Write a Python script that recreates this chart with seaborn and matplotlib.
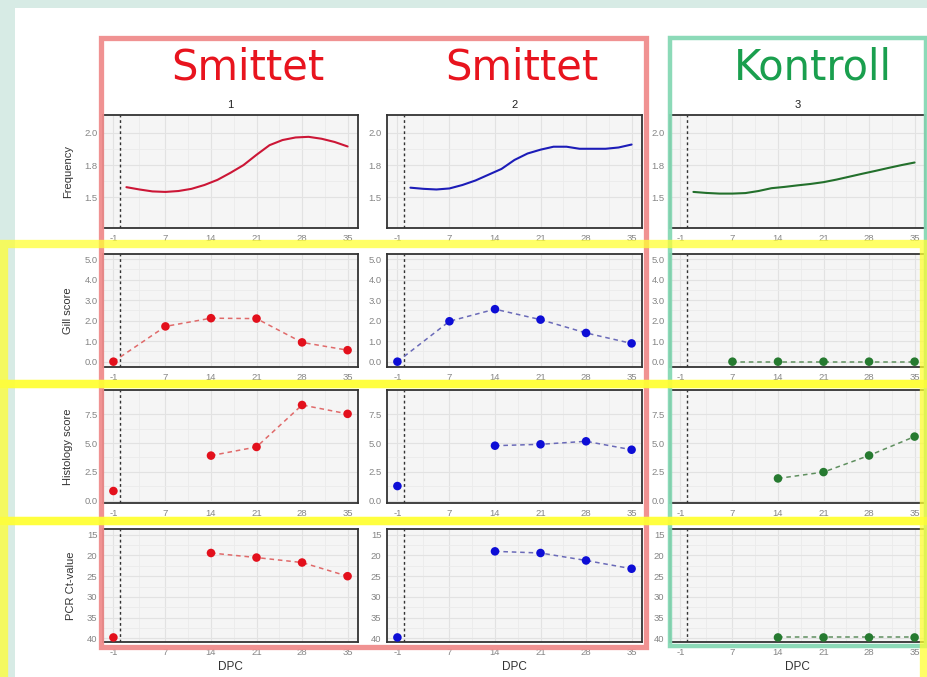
import numpy as np
import pandas as pd
import matplotlib
matplotlib.use("Agg")
import matplotlib.pyplot as plt
from matplotlib.patches import Rectangle
from matplotlib.ticker import FixedLocator
import seaborn as sns

# ---- data -------------------------------------------------------------
dpc = [-1, 7, 14, 21, 28, 35]
dpc_ticks = [-1, 7, 14, 21, 28, 35]

freq_dpc = [1, 3, 5, 7, 9, 11, 13, 15, 17, 19, 21, 23, 25, 27, 29, 31, 33, 35]
freq_1 = [1.578, 1.560, 1.545, 1.541, 1.548, 1.565, 1.595, 1.635, 1.690, 1.750,
          1.830, 1.905, 1.945, 1.965, 1.970, 1.955, 1.930, 1.895]
freq_2 = [1.574, 1.565, 1.560, 1.568, 1.595, 1.630, 1.675, 1.720, 1.790, 1.840,
          1.870, 1.893, 1.893, 1.877, 1.877, 1.877, 1.887, 1.910]
freq_3 = [1.541, 1.533, 1.528, 1.528, 1.532, 1.548, 1.570, 1.580, 1.592, 1.603,
          1.617, 1.637, 1.660, 1.683, 1.705, 1.728, 1.750, 1.770]

gill_1 = [0.0, 1.72, 2.12, 2.10, 0.94, 0.56]
gill_2 = [0.0, 1.97, 2.56, 2.05, 1.40, 0.89]
gill_3 = [np.nan, 0.0, 0.0, 0.0, 0.0, 0.0]

hist_1 = [0.84, np.nan, 3.91, 4.66, 8.30, 7.53]
hist_2 = [1.27, np.nan, 4.77, 4.89, 5.15, 4.42]
hist_3 = [np.nan, np.nan, 1.93, 2.48, 3.92, 5.56]

pcr_1 = [39.8, np.nan, 19.4, 20.5, 21.7, 25.0]
pcr_2 = [39.8, np.nan, 19.0, 19.4, 21.2, 23.2]
pcr_3 = [np.nan, np.nan, 39.8, 39.8, 39.8, 39.8]

groups = ["1", "2", "3"]
headers = ["Smittet", "Smittet", "Kontroll"]
row_labels = ["Frequency", "Gill score", "Histology score", "PCR Ct-value"]

freq_ticks = [1.5, 1.75, 2.0]
freq_ticklabels = ["1.5", "1.8", "2.0"]
gill_ticks = [0.0, 1.0, 2.0, 3.0, 4.0, 5.0]
hist_ticks = [0.0, 2.5, 5.0, 7.5]
pcr_ticks = [15, 20, 25, 30, 35, 40]

# ---- styling ----------------------------------------------------------
sns.set_theme(style="white")
plt.rcParams["font.family"] = ["Liberation Sans", "DejaVu Sans"]

line_cols = ["#cc1636", "#1c1cb8", "#23702c"]
pt_cols = ["#e3101c", "#0d0dd6", "#267a30"]
dash_cols = ["#e06a6a", "#6a6ab8", "#5f8f5f"]

W, H = 928, 677
fig = plt.figure(figsize=(W / 100, H / 100), dpi=100)
fig.patch.set_facecolor("#d7ebe5")


def fig_rect(x0, y0, w, h):
    return [x0 / W, 1 - (y0 + h) / H, w / W, h / H]


# white page
fig.patches.append(Rectangle((15 / W, 0), 1, 1 - 8 / H, transform=fig.transFigure,
                             facecolor="white", edgecolor="none", zorder=-10))

col_left = [103, 387, 670]
row_top = [115, 254, 390, 529]
aw, ah = 255, 113


def style_axes(ax, ylim, yticks, yticklabels=None, invert=False):
    ax.set_facecolor("#f5f5f5")
    ax.set_xlim(-2.6, 36.6)
    ax.set_xticks(dpc_ticks)
    ax.set_xticklabels([str(t) for t in dpc_ticks])
    minors_x = [(a + b) / 2 for a, b in zip(dpc_ticks[:-1], dpc_ticks[1:])]
    ax.xaxis.set_minor_locator(FixedLocator(minors_x))
    if invert:
        ax.set_ylim(ylim[1], ylim[0])
    else:
        ax.set_ylim(*ylim)
    ax.set_yticks(yticks)
    if yticklabels is not None:
        ax.set_yticklabels(yticklabels)
    minors_y = [(a + b) / 2 for a, b in zip(yticks[:-1], yticks[1:])]
    ax.yaxis.set_minor_locator(FixedLocator(minors_y))
    ax.grid(True, which="major", color="#e2e2e2", lw=0.8)
    ax.grid(True, which="minor", color="#ebebeb", lw=0.6)
    ax.set_axisbelow(True)
    ax.tick_params(axis="both", which="both", length=0, labelsize=6.8,
                   labelcolor="#858585", pad=4)
    for s in ax.spines.values():
        s.set_color("#333333")
        s.set_linewidth(1.3)
    ax.axvline(0, color="#333333", lw=1.0, ls=(0, (2, 2)), zorder=2)
    ax.set_xlabel("")
    ax.set_ylabel("")


def draw_points(ax, values, ci):
    df = pd.DataFrame({"DPC": dpc, "v": values})
    # connect only consecutive observed days
    df["seg"] = df["v"].isna().cumsum()
    obs = df.dropna()
    for _, part in obs.groupby("seg"):
        if len(part) > 1:
            sns.lineplot(data=part, x="DPC", y="v", ax=ax, color=dash_cols[ci],
                         lw=1.1, linestyle=(0, (3, 2.5)), zorder=3)
    sns.scatterplot(data=obs, x="DPC", y="v", ax=ax, color=pt_cols[ci],
                    s=38, edgecolor="none", zorder=4)


freq_series = [freq_1, freq_2, freq_3]
gill_series = [gill_1, gill_2, gill_3]
hist_series = [hist_1, hist_2, hist_3]
pcr_series = [pcr_1, pcr_2, pcr_3]

for ci in range(3):
    # frequency (smooth curve)
    ax = fig.add_axes(fig_rect(col_left[ci], row_top[0], aw, ah))
    fdf = pd.DataFrame({"DPC": freq_dpc, "Frequency": freq_series[ci]})
    sns.lineplot(data=fdf, x="DPC", y="Frequency", ax=ax, color=line_cols[ci],
                 lw=1.5, zorder=3)
    style_axes(ax, (1.26, 2.14), freq_ticks, freq_ticklabels)
    ax.set_title(groups[ci], fontsize=8, color="#222222", pad=5)
    if ci == 0:
        ax.set_ylabel(row_labels[0], fontsize=8, color="#333333", labelpad=8)

    # gill score
    ax = fig.add_axes(fig_rect(col_left[ci], row_top[1], aw, ah))
    draw_points(ax, gill_series[ci], ci)
    style_axes(ax, (-0.26, 5.25), gill_ticks, [f"{t:.1f}" for t in gill_ticks])
    if ci == 0:
        ax.set_ylabel(row_labels[1], fontsize=8, color="#333333", labelpad=8)

    # histology score
    ax = fig.add_axes(fig_rect(col_left[ci], row_top[2], aw, ah))
    draw_points(ax, hist_series[ci], ci)
    style_axes(ax, (-0.2, 9.6), hist_ticks, [f"{t:.1f}" for t in hist_ticks])
    if ci == 0:
        ax.set_ylabel(row_labels[2], fontsize=8, color="#333333", labelpad=8)

    # PCR Ct-value (reversed axis)
    ax = fig.add_axes(fig_rect(col_left[ci], row_top[3], aw, ah))
    draw_points(ax, pcr_series[ci], ci)
    style_axes(ax, (13.6, 40.9), pcr_ticks, [str(t) for t in pcr_ticks], invert=True)
    ax.set_xlabel("DPC", fontsize=8.5, color="#333333", labelpad=3)
    if ci == 0:
        ax.set_ylabel(row_labels[3], fontsize=8, color="#333333", labelpad=8)

# group headers
header_x = [248, 522, 813]
header_cols = ["#e8141e", "#e8141e", "#1a9f4e"]
for x, txt, c in zip(header_x, headers, header_cols):
    fig.text(x / W, 1 - 68 / H, txt, fontsize=30, color=c, ha="center", va="center",
             family="DejaVu Sans")


def frame(x0, y0, x1, y1, color, lw, alpha=1.0, z=5):
    fig.patches.append(Rectangle((x0 / W, 1 - y1 / H), (x1 - x0) / W, (y1 - y0) / H,
                                 transform=fig.transFigure, fill=False,
                                 edgecolor=color, lw=lw, alpha=alpha, zorder=z))


# highlight frames
frame(4, 244, 924, 384, "#ffff33", 6, alpha=0.75, z=6)
frame(4, 384, 924, 521, "#ffff33", 6, alpha=0.75, z=6)
frame(4, 521, 924, 690, "#ffff33", 6, alpha=0.75, z=6)
frame(101, 38, 646, 647, "#f08c8c", 3.8, alpha=0.95, z=5)
frame(670, 38, 926, 646, "#86d8b4", 3.2, alpha=0.95, z=5)

fig.savefig("out.png", dpi=100, facecolor=fig.get_facecolor())
